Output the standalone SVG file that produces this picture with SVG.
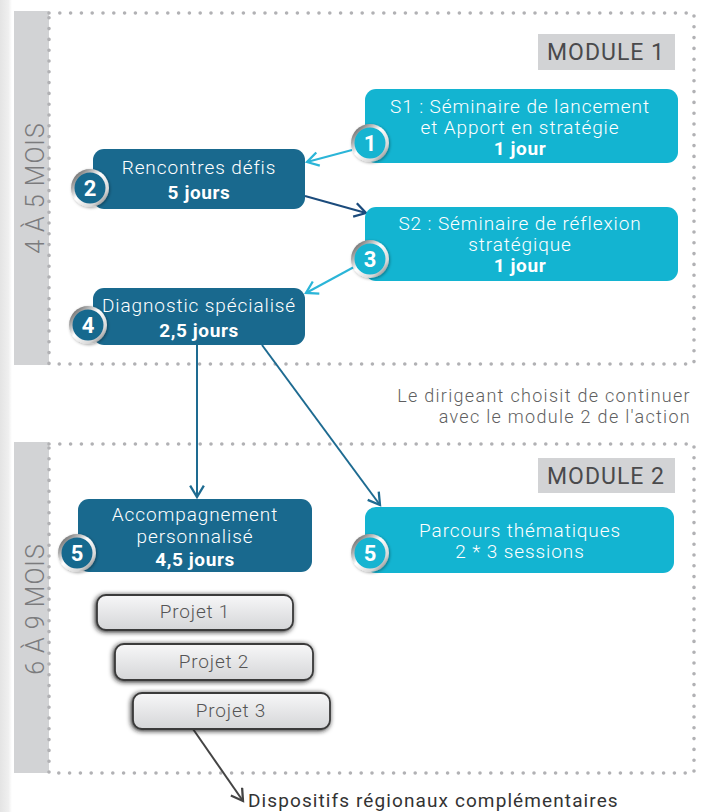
<svg xmlns="http://www.w3.org/2000/svg" width="707" height="812" viewBox="0 0 707 812">
<defs>
<style>
.dots{fill:none;stroke:#b1b1b4;stroke-width:3.6;stroke-linecap:round;stroke-dasharray:0 10.8}
.band{fill:#d2d3d5}
.vlab{font-family:Roboto,"Liberation Sans",sans-serif;font-weight:300;font-size:25px;fill:#7b7b7d;text-anchor:middle;letter-spacing:1px}
.mod{fill:#d2d3d5}
.modt{font-family:Roboto,"Liberation Sans",sans-serif;font-weight:400;font-size:23px;fill:#4a4a4c;text-anchor:middle;letter-spacing:1px}
.light{fill:#13b4d1}
.dark{fill:#19698e}
.bt{font-family:Roboto,"Liberation Sans",sans-serif;font-size:19px;font-weight:300;fill:#fff;text-anchor:middle;letter-spacing:0.9px}
.bt .b{font-weight:700;letter-spacing:0.6px}
.num{font-family:Roboto,"Liberation Sans",sans-serif;font-size:22px;font-weight:700;fill:#fff;text-anchor:middle}
.ring{fill:url(#ringg)}
.proj{fill:url(#projg);stroke:#3a3a3a;stroke-width:1.8;filter:url(#psh)}
.pt{font-family:Roboto,"Liberation Sans",sans-serif;font-size:19px;font-weight:300;fill:#555;text-anchor:middle;letter-spacing:0.8px}
.note{font-family:Roboto,"Liberation Sans",sans-serif;font-size:18px;font-weight:300;fill:#5f5f61;text-anchor:end;letter-spacing:1.3px}
.conn{fill:none;stroke-width:2}
</style>
<linearGradient id="edge" x1="0" y1="0" x2="1" y2="0">
<stop offset="0" stop-color="#e4e4e4"/><stop offset="0.7" stop-color="#efefef"/><stop offset="1" stop-color="#ffffff"/>
</linearGradient>
<linearGradient id="ringg" x1="0" y1="0" x2="1" y2="1">
<stop offset="0" stop-color="#3a3a3a"/><stop offset="0.45" stop-color="#ffffff"/><stop offset="0.75" stop-color="#d8d8d8"/><stop offset="1" stop-color="#5a5a5a"/>
</linearGradient>
<linearGradient id="projg" x1="0" y1="0" x2="0" y2="1">
<stop offset="0" stop-color="#f7f7f8"/><stop offset="1" stop-color="#d5d6d8"/>
</linearGradient>
<filter id="psh" x="-10%" y="-35%" width="120%" height="170%">
<feGaussianBlur in="SourceAlpha" stdDeviation="2.4"/>
<feOffset dx="-1" dy="0.5" result="b"/>
<feFlood flood-color="#1a1a1a" flood-opacity="1"/>
<feComposite in2="b" operator="in"/>
<feMerge><feMergeNode/><feMergeNode in="SourceGraphic"/></feMerge>
</filter>
<filter id="csh" x="-40%" y="-40%" width="180%" height="180%">
<feGaussianBlur in="SourceAlpha" stdDeviation="1.5"/>
<feOffset dx="1" dy="1" result="b"/>
<feFlood flood-color="#000" flood-opacity="0.35"/>
<feComposite in2="b" operator="in"/>
<feMerge><feMergeNode/><feMergeNode in="SourceGraphic"/></feMerge>
</filter>
<marker id="aLight" markerUnits="userSpaceOnUse" markerWidth="16" markerHeight="16" refX="11" refY="7" orient="auto" viewBox="0 0 14 14">
<path d="M1,1 L11,7 L1,13" fill="none" stroke="#2bb5d8" stroke-width="2"/>
</marker>
<marker id="aNavy" markerUnits="userSpaceOnUse" markerWidth="16" markerHeight="16" refX="11" refY="7" orient="auto" viewBox="0 0 14 14">
<path d="M1,1 L11,7 L1,13" fill="none" stroke="#1b4b7c" stroke-width="2"/>
</marker>
<marker id="aBlue" markerUnits="userSpaceOnUse" markerWidth="16" markerHeight="16" refX="11" refY="7" orient="auto" viewBox="0 0 14 14">
<path d="M1,1 L11,7 L1,13" fill="none" stroke="#1e6b91" stroke-width="2"/>
</marker>
<marker id="aGray" markerUnits="userSpaceOnUse" markerWidth="16" markerHeight="16" refX="11" refY="7" orient="auto" viewBox="0 0 14 14">
<path d="M1,1 L11,7 L1,13" fill="none" stroke="#444" stroke-width="2"/>
</marker>
</defs>

<rect x="0" y="0" width="707" height="812" fill="#fff"/>
<rect x="0" y="0" width="12" height="812" fill="url(#edge)"/>

<g id="module1-frame">
<rect class="band" x="14" y="11" width="35" height="354"/>
<text class="vlab" transform="translate(44,188) rotate(-90)">4 À 5 MOIS</text>
<path class="dots" d="M49,13 H694 V364 H49 Z"/>
<rect class="mod" x="538" y="34" width="137" height="36"/>
<text class="modt" x="606" y="60">MODULE 1</text>
</g>

<g id="module2-frame">
<rect class="band" x="14" y="442" width="35" height="331"/>
<text class="vlab" transform="translate(44,609) rotate(-90)">6 À 9 MOIS</text>
<path class="dots" d="M49,444 H694 V773 H49 Z"/>
<rect class="mod" x="538" y="458" width="137" height="35"/>
<text class="modt" x="606" y="484">MODULE 2</text>
</g>

<g id="connectors">
<line class="conn" x1="352" y1="150" x2="307" y2="162" stroke="#2bb5d8" marker-end="url(#aLight)"/>
<line class="conn" x1="305" y1="196" x2="366" y2="213" stroke="#1b4b7c" marker-end="url(#aNavy)"/>
<line class="conn" x1="354" y1="267" x2="306" y2="293" stroke="#2bb5d8" marker-end="url(#aLight)"/>
<line class="conn" x1="197" y1="345" x2="197" y2="497" stroke="#1e6b91" marker-end="url(#aBlue)"/>
<line class="conn" x1="262" y1="345" x2="380" y2="505" stroke="#1e6b91" marker-end="url(#aBlue)"/>
<line class="conn" x1="193" y1="729" x2="243" y2="801" stroke="#444" marker-end="url(#aGray)"/>
</g>

<g id="n1">
<rect class="light" x="365" y="89" width="313" height="74" rx="11"/>
<text class="bt" x="520" y="113">S1 : Séminaire de lancement</text>
<text class="bt" x="520" y="134">et Apport en stratégie</text>
<text class="bt" x="520" y="155"><tspan class="b">1 jour</tspan></text>
<g filter="url(#csh)"><circle class="ring" cx="370" cy="143" r="19"/><circle class="light" cx="370" cy="143" r="15.5"/></g>
<text class="num" x="370" y="151">1</text>
</g>

<g id="n3">
<rect class="light" x="365" y="207" width="313" height="74" rx="11"/>
<text class="bt" x="520" y="230" font-size="18.5">S2 : Séminaire de réflexion</text>
<text class="bt" x="520" y="251" font-size="18.5">stratégique</text>
<text class="bt" x="520" y="272"><tspan class="b">1 jour</tspan></text>
<g filter="url(#csh)"><circle class="ring" cx="370" cy="259" r="19"/><circle class="light" cx="370" cy="259" r="15.5"/></g>
<text class="num" x="370" y="267">3</text>
</g>

<g id="n2">
<rect class="dark" x="93" y="149" width="212" height="60" rx="11"/>
<text class="bt" x="199" y="174">Rencontres défis</text>
<text class="bt" x="199" y="199"><tspan class="b">5 jours</tspan></text>
<g filter="url(#csh)"><circle class="ring" cx="90" cy="188" r="19"/><circle class="dark" cx="90" cy="188" r="15.5"/></g>
<text class="num" x="90" y="196">2</text>
</g>

<g id="n4">
<rect class="dark" x="93" y="288" width="212" height="57" rx="11"/>
<text class="bt" x="199" y="312">Diagnostic spécialisé</text>
<text class="bt" x="199" y="337"><tspan class="b">2,5 jours</tspan></text>
<g filter="url(#csh)"><circle class="ring" cx="88" cy="325" r="19"/><circle class="dark" cx="88" cy="325" r="15.5"/></g>
<text class="num" x="88" y="333">4</text>
</g>

<g id="note">
<text class="note" x="691" y="402">Le dirigeant choisit de continuer</text>
<text class="note" x="691" y="423">avec le module 2 de l'action</text>
</g>

<g id="n5a">
<rect class="dark" x="78" y="499" width="234" height="73" rx="11"/>
<text class="bt" x="195" y="521">Accompagnement</text>
<text class="bt" x="195" y="543">personnalisé</text>
<text class="bt" x="195" y="566"><tspan class="b">4,5 jours</tspan></text>
<g filter="url(#csh)"><circle class="ring" cx="77" cy="553" r="19"/><circle class="dark" cx="77" cy="553" r="15.5"/></g>
<text class="num" x="77" y="561">5</text>
</g>

<g id="n5b">
<rect class="light" x="365" y="507" width="309" height="66" rx="11"/>
<text class="bt" x="520" y="537">Parcours thématiques</text>
<text class="bt" x="520" y="558">2 * 3 sessions</text>
<g filter="url(#csh)"><circle class="ring" cx="370" cy="553" r="19"/><circle class="light" cx="370" cy="553" r="15.5"/></g>
<text class="num" x="370" y="561">5</text>
</g>

<g id="p1">
<rect class="proj" x="97" y="595" width="196" height="35" rx="9"/>
<text class="pt" x="195" y="618">Projet 1</text>
</g>
<g id="p2">
<rect class="proj" x="115" y="644" width="198" height="36" rx="9"/>
<text class="pt" x="214" y="668">Projet 2</text>
</g>
<g id="p3">
<rect class="proj" x="133" y="693" width="197" height="36" rx="9"/>
<text class="pt" x="231" y="717">Projet 3</text>
</g>

<g id="dispositifs">
<text x="248" y="807" font-family="Roboto, 'Liberation Sans', sans-serif" font-size="19" font-weight="400" letter-spacing="1.1" fill="#333">Dispositifs régionaux complémentaires</text>
</g>
</svg>
